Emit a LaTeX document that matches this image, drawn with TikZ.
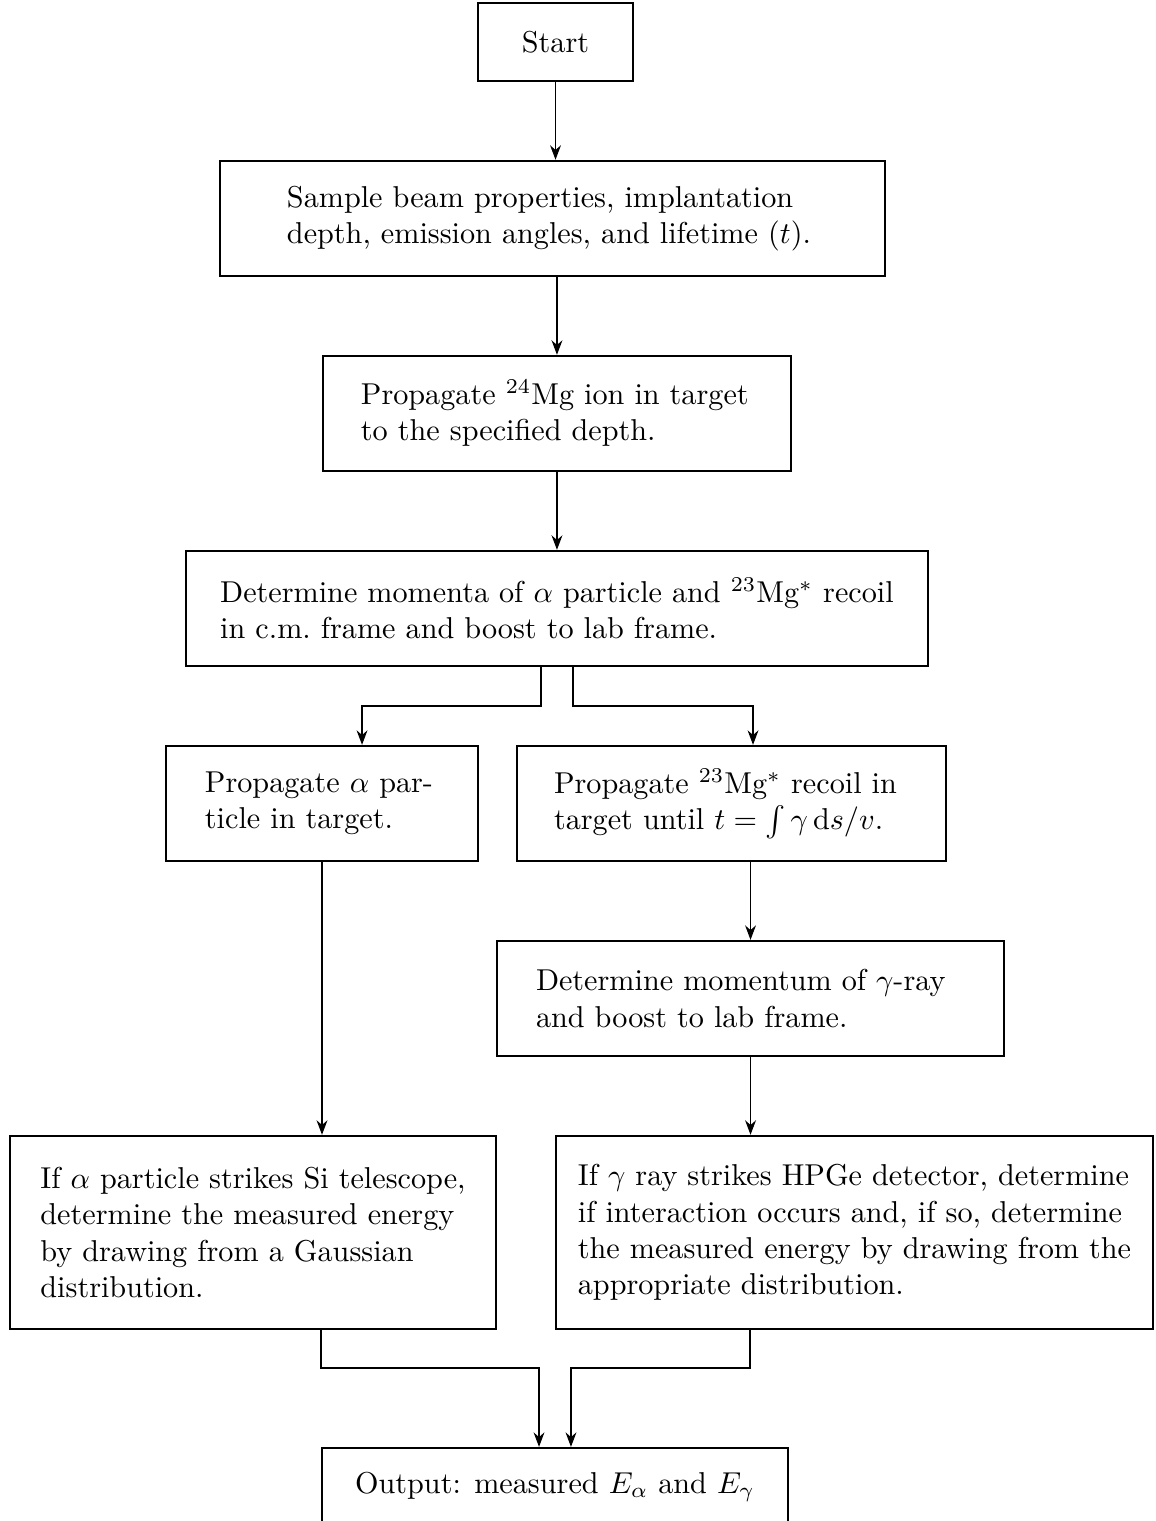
\documentclass[tikz,border=0pt]{standalone}
\usetikzlibrary{arrows.meta}

\begin{document}
\begin{tikzpicture}[
        >={Stealth},
        every node/.style={shape=rectangle, draw, thick, align=left, inner ysep=0.25cm},
        line/.style={->, thin},
        short/.style={minimum height=1.339cm},
        tall/.style={minimum height=2.247cm},
    ]
    \useasboundingbox (0,0) rectangle (13.444,-17.704);

    % main column
    \node[align=center, minimum width=1.804cm, minimum height=0.908cm] (start) at (6.466,-0.489) {Start};
    \node[short, text width=6.181cm, inner xsep=0.780cm] (sample) at (6.431,-2.543)
        {Sample beam properties, implantation\\depth, emission angles, and lifetime ($t$).};
    \node[short, text width=4.563cm, inner xsep=0.442cm] (prop) at (6.483,-4.813)
        {Propagate $^{24}$Mg ion in target\\to the specified depth.};
    \node[short, minimum width=8.636cm] (momenta) at (6.483,-7.083)
        {Determine momenta of $\alpha$ particle and $^{23}$Mg$^*$ recoil\\in c.m.\ frame and boost to lab frame.};

    % two branches
    \node[short, text width=2.724cm, inner xsep=0.454cm] (alpha) at (3.748,-9.353)
        {Propagate $\alpha$ par-\\ticle in target.};
    \node[short, text width=4.132cm, inner xsep=0.431cm] (recoil) at (8.515,-9.353)
        {Propagate $^{23}$Mg$^*$ recoil in\\target until $t=\int\gamma\,\mathrm{d}s/v$.};
    \node[short, text width=4.994cm, inner xsep=0.454cm] (gamma) at (8.736,-11.623)
        {Determine momentum of $\gamma$-ray\\and boost to lab frame.};
    \node[tall, minimum width=5.657cm] (sidet) at (2.945,-14.346)
        {If $\alpha$ particle strikes Si telescope,\\determine the measured energy\\by drawing from a Gaussian\\distribution.};
    \node[tall, minimum width=6.949cm] (gedet) at (9.946,-14.346)
        {If $\gamma$ ray strikes HPGe detector, determine\\if interaction occurs and, if so, determine\\the measured energy by drawing from the\\appropriate distribution.};

    \node[align=center, minimum width=5.424cm, minimum height=0.908cm] (output) at (6.460,-17.309)
        {Output: measured $E_\alpha$ and $E_\gamma$};

    \coordinate (lsplit) at (4.214,-8.218);
    \coordinate (rsplit) at (8.765,-8.218);
    \coordinate (ljoin) at (3.736,-15.924);
    \coordinate (rjoin) at (8.730,-15.924);

    \draw[line] (start.south) -- (start.south |- sample.north);
    \draw[line] (prop.north |- sample.south) -- (prop.north);
    \draw[line] (prop.south) -- (momenta.north);
    \draw[line] ([xshift=-0.186cm]momenta.south) |- (lsplit) -- (lsplit |- alpha.north);
    \draw[line] ([xshift=0.186cm]momenta.south) |- (rsplit) -- (rsplit |- recoil.north);
    \draw[line] (alpha.south) -- (alpha.south |- sidet.north);
    \draw[line] (gamma.north |- recoil.south) -- (gamma.north);
    \draw[line] (gamma.south) -- (gamma.south |- gedet.north);
    \draw[line] (ljoin |- sidet.south) -- (ljoin) -| ([xshift=-0.186cm]output.north);
    \draw[line] (rjoin |- gedet.south) -- (rjoin) -| ([xshift=0.186cm]output.north);
\end{tikzpicture}
\end{document}
